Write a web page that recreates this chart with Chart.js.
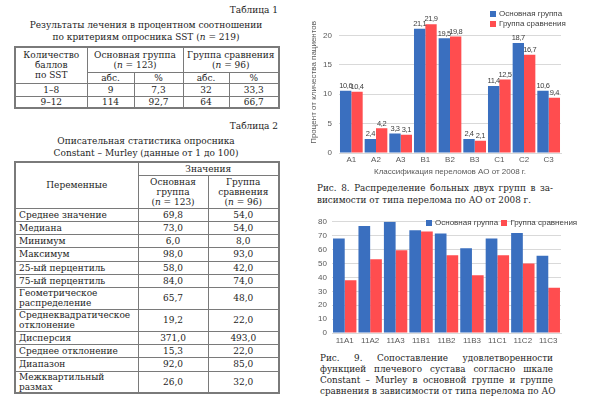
<!DOCTYPE html>
<html lang="ru">
<head>
<meta charset="UTF-8">
<title>Рис. 8 и Рис. 9</title>
<script src="https://cdn.jsdelivr.net/npm/chart.js@4.4.0/dist/chart.umd.min.js"></script>
<style>
    body { margin: 0; width: 609px; height: 409px; background: #fff; position: relative; overflow: hidden;
           font-family: "DejaVu Serif Condensed", "DejaVu Serif", serif; font-stretch: condensed; color: #1e1e1e; }
    .txt { position: absolute; font-size: 10px; line-height: 11.5px; white-space: nowrap; }
    .center { text-align: center; }
    table { position: absolute; border-collapse: collapse; table-layout: fixed; font-size: 10px; line-height: 10px;
            border: 2px solid #7a7a7a; }
    td { border: 1px solid #7a7a7a; padding: 0 3px; text-align: center; vertical-align: middle; }
    td.l { text-align: left; }
    .cap { position: absolute; font-size: 9.8px; line-height: 11.5px; text-align: justify; text-align-last: justify; }
    .chartbox { position: absolute; }
    .legend { position: absolute; font-family: "Liberation Sans", sans-serif; font-size: 8px; color: #404040;
              line-height: 10px; white-space: nowrap; }
    .sq { display: inline-block; width: 6px; height: 6px; margin-right: 3px; vertical-align: -0.5px; }
</style>
</head>
<body>

<div class="txt" style="right:331px; top:4px;">Таблица 1</div>
<div class="txt center" style="left:14px; width:264px; top:19px;">Результаты лечения в процентном соотношении<br>по критериям опросника SST (<i>n</i> = 219)</div>

<table style="left:14px; top:46px; width:264px;">
    <colgroup><col style="width:72px"><col style="width:47px"><col style="width:49px"><col style="width:46px"><col style="width:50px"></colgroup>
    <tr style="height:25px"><td rowspan="2">Количество<br>баллов<br>по SST</td><td colspan="2">Основная группа<br>(<i>n</i> = 123)</td><td colspan="2">Группа сравнения<br>(<i>n</i> = 96)</td></tr>
    <tr style="height:11px"><td>абс.</td><td>%</td><td>абс.</td><td>%</td></tr>
    <tr style="height:13px"><td>1–8</td><td>9</td><td>7,3</td><td>32</td><td>33,3</td></tr>
    <tr style="height:12px"><td>9–12</td><td>114</td><td>92,7</td><td>64</td><td>66,7</td></tr>
</table>

<div class="txt" style="right:331px; top:120px;">Таблица 2</div>
<div class="txt center" style="left:14px; width:264px; top:135px;">Описательная статистика опросника<br>Constant – Murley (данные от 1 до 100)</div>

<table style="left:14px; top:161px; width:264px;">
    <colgroup><col style="width:123px"><col style="width:70px"><col style="width:71px"></colgroup>
    <tr style="height:13px"><td rowspan="2">Переменные</td><td colspan="2">Значения</td></tr>
    <tr style="height:33px"><td>Основная<br>группа<br>(<i>n</i> = 123)</td><td>Группа<br>сравнения<br>(<i>n</i> = 96)</td></tr>
    <tr style="height:13px"><td class="l">Среднее значение</td><td>69,8</td><td>54,0</td></tr>
    <tr style="height:13px"><td class="l">Медиана</td><td>73,0</td><td>54,0</td></tr>
    <tr style="height:13px"><td class="l">Минимум</td><td>6,0</td><td>8,0</td></tr>
    <tr style="height:14px"><td class="l">Максимум</td><td>98,0</td><td>93,0</td></tr>
    <tr style="height:13px"><td class="l">25-ый перцентиль</td><td>58,0</td><td>42,0</td></tr>
    <tr style="height:13px"><td class="l">75-ый перцентиль</td><td>84,0</td><td>74,0</td></tr>
    <tr style="height:22px"><td class="l">Геометрическое<br>распределение</td><td>65,7</td><td>48,0</td></tr>
    <tr style="height:22px"><td class="l">Среднеквадратическое<br>отклонение</td><td>19,2</td><td>22,0</td></tr>
    <tr style="height:13px"><td class="l">Дисперсия</td><td>371,0</td><td>493,0</td></tr>
    <tr style="height:13px"><td class="l">Среднее отклонение</td><td>15,3</td><td>22,0</td></tr>
    <tr style="height:14px"><td class="l">Диапазон</td><td>92,0</td><td>85,0</td></tr>
    <tr style="height:21px"><td class="l">Межквартильный<br>размах</td><td>26,0</td><td>32,0</td></tr>
</table>

<!-- Рис. 8 -->
<div class="chartbox" style="left:305px; top:0px; width:262px; height:180px;"><canvas id="fig8"></canvas></div>
<div class="legend" style="left:490px; top:9px;">
    <div><span class="sq" style="background:#3a6fbf"></span>Основная группа</div>
    <div><span class="sq" style="background:#ff4d4f"></span>Группа сравнения</div>
</div>
<div class="cap" style="left:317px; width:236px; top:182px; white-space:nowrap;">Рис. 8. Распределение больных двух групп в за-</div>
<div class="cap" style="left:317px; top:194px; text-align:left; text-align-last:left; white-space:nowrap;">висимости от типа перелома по АО от 2008 г.</div>

<!-- Рис. 9 -->
<div class="chartbox" style="left:305px; top:212px; width:262px; height:136px;"><canvas id="fig9"></canvas></div>
<div class="legend" style="left:426px; top:218px;">
    <span class="sq" style="background:#3a6fbf"></span>Основная группа <span class="sq" style="background:#ff4d4f; margin-left:1px"></span>Группа сравнения
</div>
<div class="cap" style="left:320px; width:233px; top:352px;">Рис. 9. Сопоставление удовлетворенности</div>
<div class="cap" style="left:320px; width:233px; top:363px;">функцией плечевого сустава согласно шкале</div>
<div class="cap" style="left:320px; width:233px; top:374px;">Constant – Murley в основной группе и группе</div>
<div class="cap" style="left:320px; width:233px; top:385px; white-space:nowrap;">сравнения в зависимости от типа перелома по АО</div>

<script>
    // Рис. 8 — распределение по классификации АО (%)
    const fig8Labels = ['A1', 'A2', 'A3', 'B1', 'B2', 'B3', 'C1', 'C2', 'C3'];
    const fig8Main = [10.6, 2.4, 3.3, 21.1, 19.5, 2.4, 11.4, 18.7, 10.6];
    const fig8Compare = [10.4, 4.2, 3.1, 21.9, 19.8, 2.1, 12.5, 16.7, 9.4];

    // Рис. 9 — Constant – Murley по типу перелома
    const fig9Labels = ['11A1', '11A2', '11A3', '11B1', '11B2', '11B3', '11C1', '11C2', '11C3'];
    const fig9Main = [68, 77, 80, 74, 71.5, 61, 68, 72, 55.5];
    const fig9Compare = [38, 53, 59.5, 73, 56, 41.5, 56, 50, 32.5];

    const BLUE = '#3a6fbf';
    const RED = '#ff4d4f';
    const GRID = '#d9d9d9';
    const TICK = '#595959';
    const sans = 'Liberation Sans';

    // подписи значений над столбцами
    const valueLabels = {
        id: 'valueLabels',
        afterDatasetsDraw(chart, args, opts) {
            if (!opts.show) return;
            const ctx = chart.ctx;
            ctx.save();
            ctx.font = '7.5px "Liberation Sans"';
            ctx.letterSpacing = '-0.4px';
            ctx.fillStyle = '#404040';
            ctx.textAlign = 'center';
            ctx.textBaseline = 'bottom';
            chart.data.datasets.forEach((ds, i) => {
                chart.getDatasetMeta(i).data.forEach((bar, j) => {
                    ctx.fillText(String(ds.data[j]).replace('.', ','), bar.x, bar.y - 1);
                });
            });
            ctx.restore();
        }
    };

    function makeChart(id, labels, main, compare, cfg) {
        return new Chart(document.getElementById(id), {
            type: 'bar',
            data: {
                labels: labels,
                datasets: [
                    { label: 'Основная группа', data: main, backgroundColor: BLUE },
                    { label: 'Группа сравнения', data: compare, backgroundColor: RED }
                ]
            },
            plugins: [valueLabels],
            options: {
                responsive: true,
                maintainAspectRatio: false,
                animation: false,
                layout: { padding: { top: cfg.padTop, right: 6, left: 0, bottom: 0 } },
                datasets: { bar: { categoryPercentage: 0.92, barPercentage: 1.0 } },
                plugins: {
                    legend: { display: false },
                    tooltip: { enabled: false },
                    valueLabels: { show: cfg.values }
                },
                scales: {
                    x: {
                        grid: { display: false, drawTicks: false },
                        border: { color: GRID },
                        ticks: { color: TICK, font: { family: sans, size: 8 }, padding: cfg.xPad, maxRotation: 0 },
                        title: cfg.xTitle ? { display: true, text: cfg.xTitle, color: TICK,
                                 font: { family: sans, size: 8 }, padding: { top: 0, bottom: 3 } } : { display: false },
                        afterFit: s => { s.height = cfg.xHeight; }
                    },
                    y: {
                        min: 0,
                        max: cfg.yMax,
                        grid: { color: GRID, drawTicks: false },
                        border: { display: false },
                        ticks: { stepSize: cfg.step, includeBounds: false, color: TICK,
                                 font: { family: sans, size: 8 }, padding: cfg.yPad },
                        title: cfg.yTitle ? { display: true, text: cfg.yTitle, color: TICK,
                                 font: { family: sans, size: 8 }, padding: { top: 4, bottom: 0 } } : { display: false },
                        afterFit: s => { s.width = cfg.yWidth; }
                    }
                }
            }
        });
    }

    makeChart('fig8', fig8Labels, fig8Main, fig8Compare, {
        padTop: 9, yMax: 24, step: 5, values: true,
        xTitle: 'Классификация переломов АО от 2008 г.',
        yTitle: 'Процент от кличества пациентов',
        xHeight: 27, yWidth: 34, xPad: 2, yPad: 7
    });

    makeChart('fig9', fig9Labels, fig9Main, fig9Compare, {
        padTop: 9, yMax: 80, step: 10, values: false,
        xTitle: null, yTitle: null,
        xHeight: 15, yWidth: 27, xPad: 3, yPad: 5
    });
</script>
</body>
</html>
